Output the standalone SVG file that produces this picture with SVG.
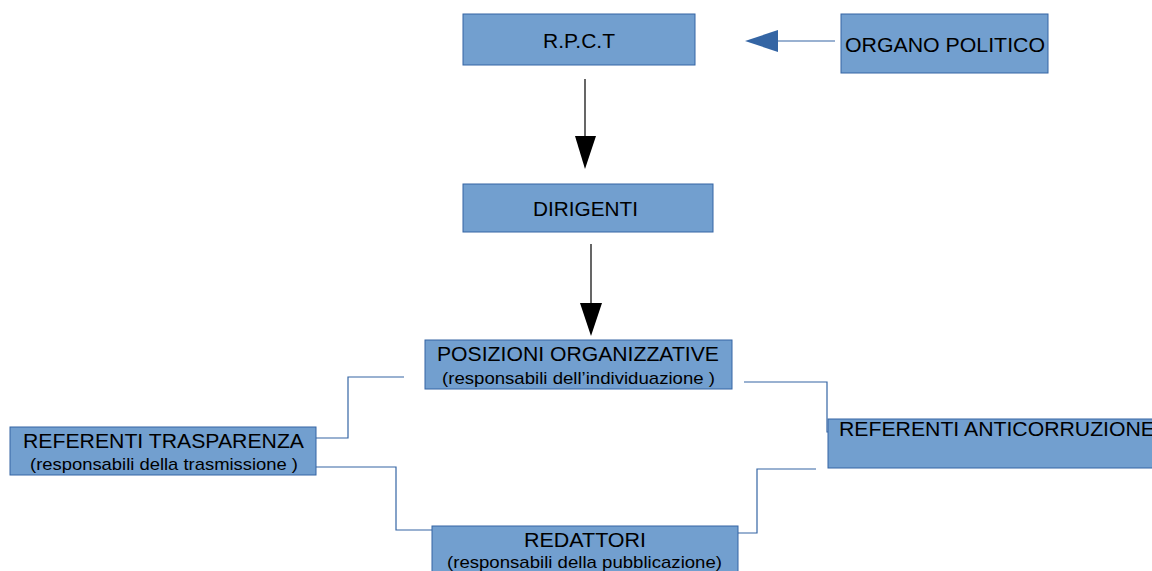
<svg xmlns="http://www.w3.org/2000/svg" width="1152" height="571" viewBox="0 0 1152 571">
<style>
.box{fill:#729fcf;stroke:#3465a4;stroke-width:1}
.t{font-family:"Liberation Sans",Arial,sans-serif;font-size:20px;fill:#000}
.s{font-family:"Liberation Sans",Arial,sans-serif;font-size:17px;fill:#000}
.c{fill:none;stroke:#3465a4;stroke-width:1.2}
.a{fill:none;stroke:#000;stroke-width:1.2}
</style>
<rect width="1152" height="571" fill="#fff"/>
<g id="connectors">
<line class="a" x1="585" y1="79" x2="585" y2="137"/>
<polygon points="575,136 596,136 585,169" fill="#000"/>
<line class="a" x1="591" y1="244" x2="591" y2="304"/>
<polygon points="580,303 602,303 591,336" fill="#000"/>
<line class="c" x1="835" y1="41" x2="776" y2="41"/>
<polygon points="778,30 778,52 745,41" fill="#3465a4"/>
<polyline class="c" points="404,377 348,377 348,438 316,438"/>
<polyline class="c" points="744,382 827,382 827,432 830,432"/>
<polyline class="c" points="314,467 396,467 396,530 432,530"/>
<polyline class="c" points="738,533 757,533 757,469 816,469"/>
</g>
<g id="rpct">
<rect class="box" x="463" y="14" width="232" height="51"/>
<text class="t" x="543" y="48" textLength="72" lengthAdjust="spacingAndGlyphs">R.P.C.T</text>
</g>
<g id="organo">
<rect class="box" x="841" y="14" width="207" height="59"/>
<text class="t" x="845" y="52" style="font-size:21px" textLength="200" lengthAdjust="spacingAndGlyphs">ORGANO POLITICO</text>
</g>
<g id="dirigenti">
<rect class="box" x="463" y="184" width="250" height="48"/>
<text class="t" x="533" y="216" textLength="105" lengthAdjust="spacingAndGlyphs">DIRIGENTI</text>
</g>
<g id="posizioni">
<rect class="box" x="425" y="340" width="307" height="49"/>
<text class="t" x="437" y="361" textLength="282" lengthAdjust="spacingAndGlyphs">POSIZIONI ORGANIZZATIVE</text>
<text class="s" x="442" y="384" textLength="273" lengthAdjust="spacingAndGlyphs">(responsabili dell’individuazione )</text>
</g>
<g id="trasparenza">
<rect class="box" x="10" y="427" width="306" height="48"/>
<text class="t" x="23" y="448" textLength="281" lengthAdjust="spacingAndGlyphs">REFERENTI TRASPARENZA</text>
<text class="s" x="30" y="470" textLength="268" lengthAdjust="spacingAndGlyphs">(responsabili della trasmissione )</text>
</g>
<g id="anticorruzione">
<rect class="box" x="828" y="419" width="330" height="49"/>
<text class="t" x="839" y="436" textLength="316" lengthAdjust="spacingAndGlyphs">REFERENTI ANTICORRUZIONE</text>
</g>
<g id="redattori">
<rect class="box" x="432" y="526" width="306" height="50"/>
<text class="t" x="524" y="547" textLength="122" lengthAdjust="spacingAndGlyphs">REDATTORI</text>
<text class="s" x="447" y="568" textLength="275" lengthAdjust="spacingAndGlyphs">(responsabili della pubblicazione)</text>
</g>
</svg>
